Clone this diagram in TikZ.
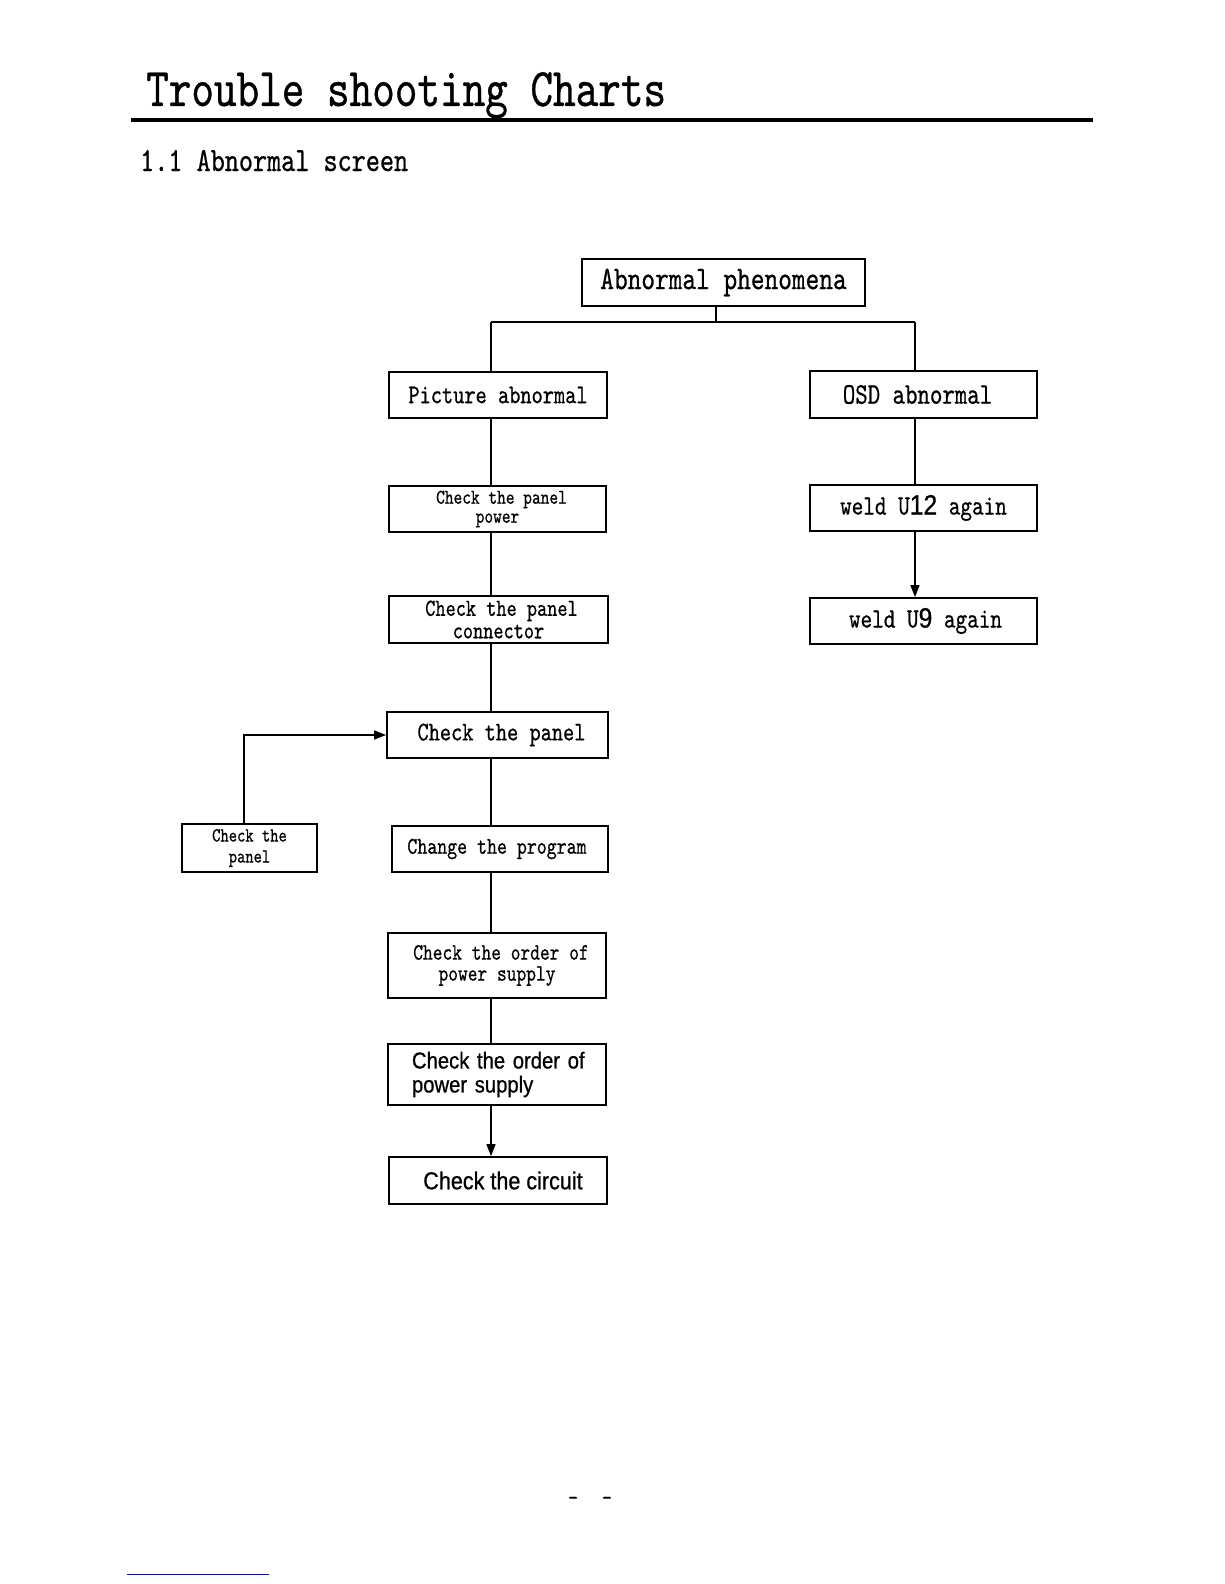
\documentclass[tikz,border=0pt]{standalone}
\usepackage{fontspec}
\usetikzlibrary{arrows.meta}
\newfontfamily\mono{lmmono10-regular.otf}[FakeStretch=0.79, FakeBold=0.6]
\newfontfamily\sansf{Liberation Sans}[FakeStretch=0.88, FakeBold=0.8]
\newcommand{\fs}[2]{\fontsize{#1}{#2}\selectfont}
\definecolor{linkblue}{RGB}{20,20,140}
\begin{document}
\begin{tikzpicture}[x=1pt,y=-1pt,
  box/.style={draw, line width=1.8pt, inner sep=0pt, align=center, font=\mono},
  link/.style={line width=1.6pt},
  arr/.style={line width=1.6pt, -{Triangle[length=12pt,width=9pt]}}]
\useasboundingbox (0,0) rectangle (1224,1584);
% header
\node[anchor=base west, inner sep=0, font=\mono\fs{54.5}{60}] (title) at (146,106) {Trouble shooting Charts};
\draw[line width=4pt] (131,120) -- (1093,120);
\node[anchor=base west, inner sep=0, font=\mono\fs{34}{40}] (sub) at (140,171) {1.1 Abnormal screen};
% boxes
\node[box, minimum width=283pt, minimum height=47pt, font=\mono\fs{33}{36}] (phen) at (723.5,282.5) {Abnormal phenomena};
\node[box, minimum width=218pt, minimum height=46pt, font=\mono\fs{27}{30}] (pic) at (498,395) {Picture abnormal};
\node[box, minimum width=227pt, minimum height=47pt, font=\mono\fs{30}{33}] (osd) at (923.5,394.5) {OSD abnormal\hspace*{12pt}};
\node[box, minimum width=227pt, minimum height=46pt, font=\mono\fs{28}{31}] (u12) at (923.5,508) {weld U{\sansf 12} again};
\node[box, minimum width=227pt, minimum height=46pt, font=\mono\fs{28}{31}] (u9) at (923.5,621) {\hspace*{4pt}weld U{\sansf 9} again};
\node[box, minimum width=217pt, minimum height=46pt, font=\mono\fs{21}{19}] (power) at (497.5,509) {\hspace*{8pt}Check the panel\\power};
\node[box, minimum width=219pt, minimum height=47pt, font=\mono\fs{24.5}{22.5}] (conn) at (498.5,619.5) {\hspace*{6pt}Check the panel\\connector};
\node[box, minimum width=221pt, minimum height=46pt, font=\mono\fs{27}{30}] (panel) at (497.5,735) {\hspace*{8pt}Check the panel};
\node[box, minimum width=135pt, minimum height=48pt, font=\mono\fs{20}{21}] (small) at (249.5,848) {Check the\\panel};
\node[box, minimum width=216pt, minimum height=46pt, font=\mono\fs{24}{27}] (prog) at (500,849) {Change the program\hspace*{6pt}};
\node[box, minimum width=218pt, minimum height=65pt, font=\mono\fs{23.5}{21}] (ord1) at (497,965.5) {\hspace*{8pt}Check the order of\\power supply};
\node[box, minimum width=218pt, minimum height=61pt, text width=170pt, align=left, font=\sansf\fs{23}{24}] (ord2) at (497,1074.5) {\mbox{Check the order of}\\power supply};
\node[box, minimum width=218pt, minimum height=47pt, font=\sansf\fs{24.5}{27}] (circ) at (498,1180.5) {\hspace*{10pt}Check the circuit};
% connectors
\coordinate (j) at (716,322);
\coordinate (lx) at (491,322);
\coordinate (rx) at (915,322);
\coordinate (sx) at (244,0);
\draw[link] (phen.south -| j) -- (j);
\draw[link] (lx) -- (rx);
\draw[link] (lx) -- (lx |- pic.north);
\draw[link] (rx) -- (rx |- osd.north);
\draw[link] (pic.south -| lx) -- (power.north -| lx);
\draw[link] (power.south -| lx) -- (conn.north -| lx);
\draw[link] (conn.south -| lx) -- (panel.north -| lx);
\draw[link] (panel.south -| lx) -- (prog.north -| lx);
\draw[link] (prog.south -| lx) -- (ord1.north -| lx);
\draw[link] (ord1.south -| lx) -- (ord2.north -| lx);
\draw[arr] (ord2.south -| lx) -- (circ.north -| lx);
\draw[link] (osd.south -| rx) -- (u12.north -| rx);
\draw[arr] (u12.south -| rx) -- (u9.north -| rx);
\draw[arr] (small.north -| sx) |- (panel.west);
% footer
\node[inner sep=0, font=\mono\fs{24}{24}] (pg) at (590,1501) {-\hspace*{24pt}-};
\draw[linkblue, line width=1.5pt] (127,1574.5) -- (269,1574.5);
\end{tikzpicture}
\end{document}
